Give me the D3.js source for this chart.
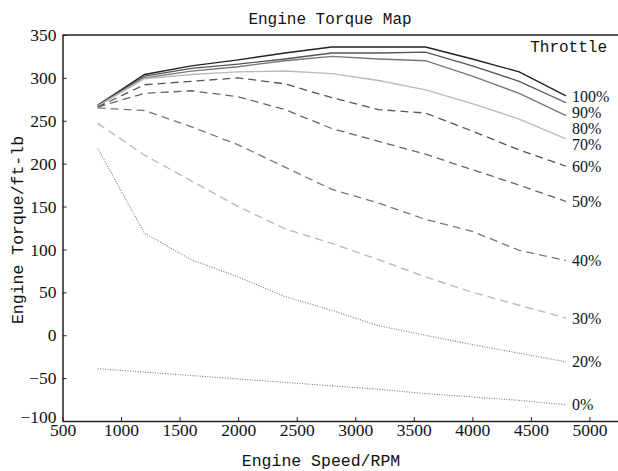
<!DOCTYPE html>
<html lang="en">
  <head>
    <meta charset="UTF-8" />
    <title>Engine Torque Map</title>
    <script src="https://d3js.org/d3.v7.min.js"></script>
    <style>
      body { margin: 0; background: #fff; }
      text { fill: #111; }
    </style>
  </head>
  <body>
    <svg width="618" height="471"></svg>
    <script>
      // engine speed samples (RPM)
      var rpm = [800, 1200, 1600, 2000, 2400, 2800, 3200, 3600, 4000, 4400, 4800];

      // torque per throttle position (ft-lb)
      var t100 = [268, 304, 314, 321, 329, 336, 336, 336, 322, 307, 279];
      var t90 = [268, 302, 311, 316, 322, 329, 329, 330, 314, 296, 271];
      var t80 = [267, 300, 308, 313, 320, 325, 322, 320, 302, 282, 256];
      var t70 = [267, 299, 304, 307, 308, 305, 297, 286, 270, 252, 229];
      var t60 = [266, 292, 296, 300, 293, 277, 263, 259, 238, 216, 197];
      var t50 = [266, 282, 285, 278, 263, 241, 226, 211, 193, 175, 156];
      var t40 = [265, 262, 243, 222, 196, 170, 154, 135, 121, 99, 87];
      var t30 = [247, 210, 180, 150, 124, 107, 88, 68, 50, 35, 20];
      var t20 = [218, 119, 88, 68, 45, 29, 11, 0, -11, -21, -31];
      var t0 = [-39, -43, -47, -51, -55, -59, -63, -68, -72, -76, -81];

      var throttleLabels = ["100%", "90%", "80%", "70%", "60%", "50%", "40%", "30%", "20%", "0%"];
      var xTicks = [500, 1000, 1500, 2000, 2500, 3000, 3500, 4000, 4500, 5000];
      var yTicks = [-100, -50, 0, 50, 100, 150, 200, 250, 300, 350];

      var series = [t100, t90, t80, t70, t60, t50, t40, t30, t20, t0];
      var styles = [
        { c: "#222", d: null, w: 1.4 },
        { c: "#555", d: null, w: 1.3 },
        { c: "#777", d: null, w: 1.3 },
        { c: "#bbb", d: null, w: 1.4 },
        { c: "#555", d: "8,5", w: 1.3 },
        { c: "#666", d: "8,5", w: 1.3 },
        { c: "#777", d: "8,5", w: 1.3 },
        { c: "#bbb", d: "8,5", w: 1.4 },
        { c: "#777", d: "1,1.5", w: 1.1 },
        { c: "#777", d: "1,1.5", w: 1.1 }
      ];

      var svg = d3.select("svg");
      var mLeft = 62.5, mRight = 618, mTop = 35, mBottom = 421;

      var x = d3.scaleLinear().domain([500, 5244]).range([mLeft, mRight]);
      var y = d3.scaleLinear().domain([-100, 350]).range([mBottom, mTop]);

      var serif = "'Liberation Serif', 'DejaVu Serif', serif";
      var mono = "'Liberation Mono', 'DejaVu Sans Mono', monospace";

      // top edge of the frame
      svg.append("line")
        .attr("x1", mLeft).attr("x2", mRight)
        .attr("y1", mTop).attr("y2", mTop)
        .attr("stroke", "#222").attr("stroke-width", 1.5);

      var xAxis = svg.append("g")
        .attr("transform", "translate(0," + mBottom + ")")
        .call(d3.axisBottom(x).tickValues(xTicks).tickSizeInner(-4).tickSizeOuter(0).tickPadding(6)
          .tickFormat(d => String(d)));
      var yAxis = svg.append("g")
        .attr("transform", "translate(" + mLeft + ",0)")
        .call(d3.axisLeft(y).tickValues(yTicks).tickSizeInner(-4).tickSizeOuter(0).tickPadding(6)
          .tickFormat(d => d < 0 ? "\u2212" + Math.abs(d) : String(d)));

      [xAxis, yAxis].forEach(function (g) {
        g.select(".domain").attr("stroke", "#222").attr("stroke-width", 1.5);
        g.selectAll(".tick line").attr("stroke", "#222");
        g.selectAll(".tick text")
          .style("font-family", serif)
          .style("font-size", "17.5px")
          .attr("fill", "#111");
      });
      yAxis.selectAll(".tick text").filter(d => d === -100).attr("dy", "0.1em");
      xAxis.selectAll(".tick text").attr("dy", "0.5em");

      var line = d3.line()
        .x((d, i) => x(rpm[i]))
        .y(d => y(d));

      svg.append("g").selectAll("path")
        .data(series)
        .join("path")
        .attr("d", line)
        .attr("fill", "none")
        .attr("stroke", (d, i) => styles[i].c)
        .attr("stroke-width", (d, i) => styles[i].w)
        .attr("stroke-dasharray", (d, i) => styles[i].d);

      // end labels, spread apart where lines bunch up
      var prev = -Infinity;
      var labelY = series.map(function (s) {
        var ly = Math.max(y(s[s.length - 1]), prev + 16);
        prev = ly;
        return ly;
      });

      svg.append("g").selectAll("text")
        .data(throttleLabels)
        .join("text")
        .attr("x", x(rpm[rpm.length - 1]) + 6)
        .attr("y", (d, i) => labelY[i])
        .attr("dy", "0.35em")
        .style("font-family", serif)
        .style("font-size", "16px")
        .text(d => d);

      svg.append("text")
        .attr("x", 607).attr("y", 46).attr("dy", "0.35em")
        .attr("text-anchor", "end")
        .style("font-family", mono).style("font-size", "16px")
        .text("Throttle");

      svg.append("text")
        .attr("x", 330).attr("y", 18).attr("dy", "0.35em")
        .attr("text-anchor", "middle")
        .style("font-family", mono).style("font-size", "16px")
        .text("Engine Torque Map");

      svg.append("text")
        .attr("x", 321).attr("y", 460).attr("dy", "0.35em")
        .attr("text-anchor", "middle")
        .style("font-family", mono).style("font-size", "16.5px")
        .text("Engine Speed/RPM");

      svg.append("text")
        .attr("transform", "translate(17,230) rotate(-90)")
        .attr("dy", "0.35em")
        .attr("text-anchor", "middle")
        .style("font-family", mono).style("font-size", "16.5px")
        .text("Engine Torque/ft-lb");
    </script>
  </body>
</html>
